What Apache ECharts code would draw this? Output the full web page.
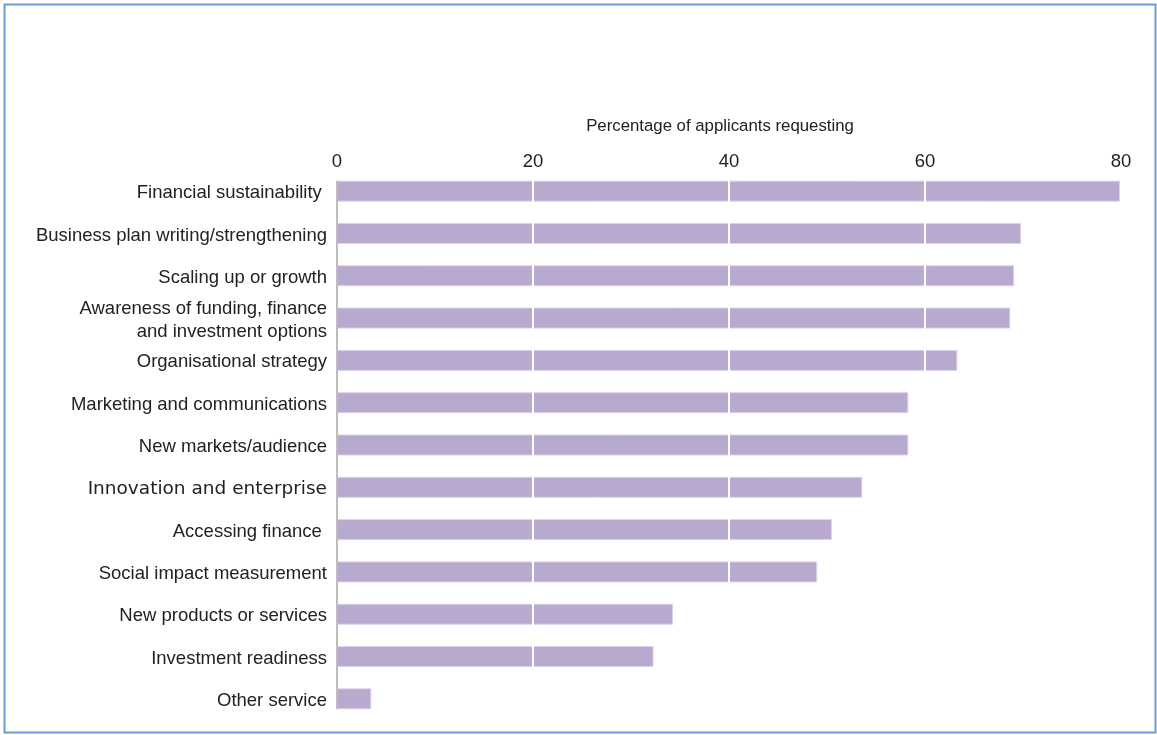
<!DOCTYPE html>
<html>
<head>
<meta charset="utf-8">
<script src="https://cdn.jsdelivr.net/npm/echarts@6/dist/echarts.min.js"></script>
<style>
  html, body { margin: 0; padding: 0; background: #fff; }
  #chart { width: 1157px; height: 735px; }
</style>
</head>
<body>
<div id="chart"></div>
<script>
// Support areas requested, top to bottom
const categories = [
  'Financial sustainability ',
  'Business plan writing/strengthening',
  'Scaling up or growth',
  'Awareness of funding, finance\nand investment options',
  'Organisational strategy',
  'Marketing and communications',
  'New markets/audience',
  'Innovation and enterprise',
  'Accessing finance ',
  'Social impact measurement',
  'New products or services',
  'Investment readiness',
  'Other service'
];
// Percentage of applicants requesting each area
const values = [79.9, 69.8, 69.1, 68.7, 63.3, 58.3, 58.3, 53.6, 50.5, 49.0, 34.3, 32.3, 3.5];
const xTicks = [0, 20, 40, 60, 80];
const axisTitle = 'Percentage of applicants requesting';

const BAR_WIDTH = 21;
const chart = echarts.init(document.getElementById('chart'), null, { renderer: 'canvas' });

chart.setOption({
  animation: false,
  backgroundColor: '#ffffff',
  grid: { left: 337, right: 36, top: 170, bottom: 15, containLabel: false },
  xAxis: {
    type: 'value',
    position: 'top',
    min: xTicks[0],
    max: xTicks[xTicks.length - 1],
    interval: 20,
    z: 5,
    name: axisTitle,
    nameLocation: 'middle',
    nameGap: 35,
    nameTextStyle: { fontFamily: 'Liberation Sans', fontSize: 16.8, color: '#222', padding: [0, 18, 0, 0] },
    axisLine: { show: false },
    axisTick: { show: false },
    axisLabel: { fontFamily: 'Liberation Sans', fontSize: 18.5, color: '#222', margin: -1 },
    splitLine: { show: true, lineStyle: { color: '#ffffff', width: 2 } }
  },
  yAxis: {
    type: 'category',
    inverse: true,
    data: categories,
    axisLine: { show: false },
    axisTick: { show: false },
    axisLabel: {
      fontFamily: 'Liberation Sans',
      fontSize: 18.5,
      color: '#222',
      margin: 10,
      lineHeight: 23,
      padding: [4, 0, 0, 0],
      formatter: function (v) {
        return v === 'Innovation and enterprise' ? '{alt|' + v + '}' : v;
      },
      rich: {
        alt: { fontFamily: 'DejaVu Sans', fontSize: 18.5, color: '#222' }
      }
    }
  },
  series: [{
    type: 'bar',
    data: values,
    barWidth: BAR_WIDTH,
    itemStyle: { color: '#b8a9ce', borderColor: '#ddd2ec', borderWidth: 1 },
    z: 2
  }]
});

// Category axis line: runs from the top of the first bar to the bottom of the last one
const x0 = chart.convertToPixel({ xAxisIndex: 0 }, xTicks[0]);
const yFirst = chart.convertToPixel({ yAxisIndex: 0 }, categories[0]);
const yLast = chart.convertToPixel({ yAxisIndex: 0 }, categories[categories.length - 1]);

chart.setOption({
  graphic: [
    {
      type: 'line',
      shape: { x1: x0, y1: yFirst - BAR_WIDTH / 2, x2: x0, y2: yLast + BAR_WIDTH / 2 },
      style: { stroke: '#bdbdbd', lineWidth: 2 },
      z: 10
    },
    {
      type: 'rect',
      shape: { x: 4.5, y: 4.5, width: 1151, height: 728 },
      style: { fill: 'none', stroke: '#6b9bd8', lineWidth: 2 },
      z: 100
    }
  ]
});
</script>
</body>
</html>
